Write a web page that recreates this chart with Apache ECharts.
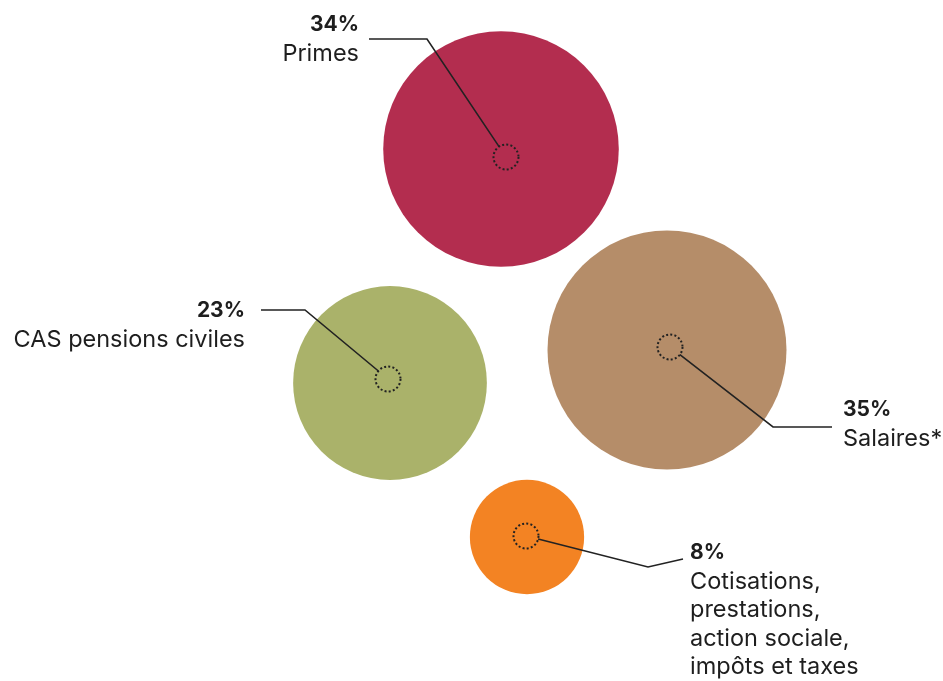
<!DOCTYPE html>
<html>
<head>
<meta charset="utf-8">
<script src="https://cdn.jsdelivr.net/npm/echarts@6/dist/echarts.min.js"></script>
<style>html,body{margin:0;padding:0;background:#fff;}#chart{width:943px;height:681px;}</style>
</head>
<body>
<div id="chart"></div>
<script>
// ---- Data ----
const categories = ['Primes', 'Salaires*', 'CAS pensions civiles', 'Cotisations, prestations, action sociale, impôts et taxes'];
const shares = [34, 35, 23, 8];
const nameLines = [
  ['Primes'],
  ['Salaires*'],
  ['CAS pensions civiles'],
  ['Cotisations,', 'prestations,', 'action sociale,', 'impôts et taxes']
];

// ---- Styling / layout (not data) ----
const colors = ['#B32D4F', '#B58D69', '#AAB26A', '#F38323'];
const bubbleCenters = [[501, 149], [667, 350], [390, 383], [527, 537]];
const markerCenters = [[506, 157], [670, 347], [388, 379], [526, 536]];
const leaderBends = [[[427, 39], [369, 39]], [[773, 427], [832, 427]], [[305, 310], [261, 310]], [[648, 567], [683, 559]]];
const labelAnchors = [
  { x: 359, y: 25, align: 'right' },
  { x: 843, y: 410, align: 'left' },
  { x: 245, y: 311, align: 'right' },
  { x: 690, y: 553, align: 'left' }
];
const radiusPerSqrt = 20.2;
const markerR = 12.5;
const lineH = 28.5;
const FONT = 'Inter, "Noto Sans", sans-serif';
const TEXT = '#1e1e1e';

const chart = echarts.init(document.getElementById('chart'), null, { renderer: 'canvas' });

const bubbleData = shares.map((v, i) => ({
  name: categories[i],
  value: [bubbleCenters[i][0], bubbleCenters[i][1], v],
  itemStyle: { color: colors[i] }
}));

const annoData = shares.map((v, i) => ({ name: categories[i], value: [markerCenters[i][0], markerCenters[i][1], v] }));

function renderAnno(params, api) {
  const i = params.dataIndex;
  const c = api.coord([api.value(0), api.value(1)]);
  const bends = leaderBends[i].map(p => api.coord(p));
  const dx = bends[0][0] - c[0], dy = bends[0][1] - c[1];
  const len = Math.sqrt(dx * dx + dy * dy);
  const start = [c[0] + dx / len * markerR, c[1] + dy / len * markerR];
  const la = labelAnchors[i];
  const anchor = api.coord([la.x, la.y]);
  const children = [
    { type: 'circle', shape: { cx: c[0], cy: c[1], r: markerR },
      style: { fill: null, stroke: '#222', lineWidth: 2, lineDash: [2, 2.2] } },
    { type: 'polyline', shape: { points: [start].concat(bends) },
      style: { fill: null, stroke: '#222', lineWidth: 1.6 } },
    { type: 'text', style: { text: api.value(2) + '%', x: anchor[0], y: anchor[1], align: la.align, verticalAlign: 'middle',
      font: 'bold 21px ' + FONT, fill: TEXT } }
  ];
  nameLines[i].forEach((t, k) => {
    children.push({ type: 'text', style: { text: t, x: anchor[0], y: anchor[1] + lineH * (k + 1), align: la.align,
      verticalAlign: 'middle', font: '23.5px ' + FONT, fill: TEXT } });
  });
  return { type: 'group', children };
}

chart.setOption({
  animation: false,
  backgroundColor: '#ffffff',
  grid: { left: 0, right: 0, top: 0, bottom: 0 },
  xAxis: { type: 'value', min: 0, max: 943, show: false },
  yAxis: { type: 'value', min: 0, max: 681, inverse: true, show: false },
  tooltip: { show: false },
  series: [
    {
      type: 'scatter',
      silent: true,
      data: bubbleData,
      symbol: 'circle',
      symbolSize: (val) => 2 * radiusPerSqrt * Math.sqrt(val[2]),
      itemStyle: { opacity: 1 }
    },
    {
      type: 'custom',
      silent: true,
      data: annoData,
      renderItem: renderAnno,
      z: 5
    }
  ]
});
</script>
</body>
</html>
